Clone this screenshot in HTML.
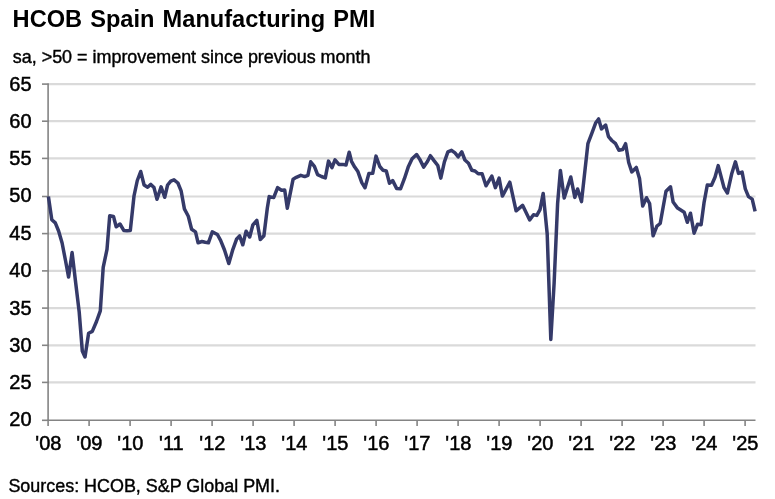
<!DOCTYPE html>
<html><head><meta charset="utf-8"><title>HCOB Spain Manufacturing PMI</title>
<style>
html,body{margin:0;padding:0;background:#fff;}
svg{display:block;font-family:"Liberation Sans",sans-serif;}
.t{font-weight:bold;font-size:23.6px;word-spacing:1.6px;fill:#000;}
.s{font-size:17.93px;fill:#000;stroke:#000;stroke-width:.4;}
.ax{font-size:20px;fill:#000;stroke:#000;stroke-width:.5;}
.g line{stroke:#dadada;stroke-width:2.2;}
.a line{stroke:#848484;stroke-width:1.6;}
</style></head><body>
<svg width="775" height="499" viewBox="0 0 775 499">
<rect width="775" height="499" fill="#fff"/>
<text class="t" x="12.6" y="26.6">HCOB Spain Manufacturing PMI</text>
<text class="s" x="12.8" y="62.8">sa, &gt;50 = improvement since previous month</text>
<g class="g">
<line x1="48" x2="755.5" y1="84.1" y2="84.1"/>
<line x1="48" x2="755.5" y1="121.2" y2="121.2"/>
<line x1="48" x2="755.5" y1="158.4" y2="158.4"/>
<line x1="48" x2="755.5" y1="196.5" y2="196.5"/>
<line x1="48" x2="755.5" y1="233.6" y2="233.6"/>
<line x1="48" x2="755.5" y1="270.9" y2="270.9"/>
<line x1="48" x2="755.5" y1="308.1" y2="308.1"/>
<line x1="48" x2="755.5" y1="345.3" y2="345.3"/>
<line x1="48" x2="755.5" y1="382.4" y2="382.4"/>
</g>
<g class="a">
<line x1="48.1" x2="48.1" y1="83.4" y2="420.3"/>
<line x1="47.5" x2="755.5" y1="420.3" y2="420.3"/>
<line x1="42" x2="48.6" y1="84.1" y2="84.1"/>
<line x1="42" x2="48.6" y1="121.2" y2="121.2"/>
<line x1="42" x2="48.6" y1="158.4" y2="158.4"/>
<line x1="42" x2="48.6" y1="196.5" y2="196.5"/>
<line x1="42" x2="48.6" y1="233.6" y2="233.6"/>
<line x1="42" x2="48.6" y1="270.9" y2="270.9"/>
<line x1="42" x2="48.6" y1="308.1" y2="308.1"/>
<line x1="42" x2="48.6" y1="345.3" y2="345.3"/>
<line x1="42" x2="48.6" y1="382.4" y2="382.4"/>
<line x1="42" x2="48.6" y1="420.3" y2="420.3"/>
<line x1="48.1" x2="48.1" y1="420.3" y2="425.9"/>
<line x1="89.1" x2="89.1" y1="420.3" y2="425.9"/>
<line x1="130.1" x2="130.1" y1="420.3" y2="425.9"/>
<line x1="171.1" x2="171.1" y1="420.3" y2="425.9"/>
<line x1="212.1" x2="212.1" y1="420.3" y2="425.9"/>
<line x1="253.1" x2="253.1" y1="420.3" y2="425.9"/>
<line x1="294.1" x2="294.1" y1="420.3" y2="425.9"/>
<line x1="335.1" x2="335.1" y1="420.3" y2="425.9"/>
<line x1="376.1" x2="376.1" y1="420.3" y2="425.9"/>
<line x1="417.1" x2="417.1" y1="420.3" y2="425.9"/>
<line x1="458.1" x2="458.1" y1="420.3" y2="425.9"/>
<line x1="499.1" x2="499.1" y1="420.3" y2="425.9"/>
<line x1="540.1" x2="540.1" y1="420.3" y2="425.9"/>
<line x1="581.1" x2="581.1" y1="420.3" y2="425.9"/>
<line x1="622.1" x2="622.1" y1="420.3" y2="425.9"/>
<line x1="663.1" x2="663.1" y1="420.3" y2="425.9"/>
<line x1="704.1" x2="704.1" y1="420.3" y2="425.9"/>
<line x1="745.1" x2="745.1" y1="420.3" y2="425.9"/>
</g>
<g class="ax">
<text x="31.6" y="90.8" text-anchor="end">65</text>
<text x="31.6" y="128.0" text-anchor="end">60</text>
<text x="31.6" y="165.0" text-anchor="end">55</text>
<text x="31.6" y="202.1" text-anchor="end">50</text>
<text x="31.6" y="240.2" text-anchor="end">45</text>
<text x="31.6" y="277.4" text-anchor="end">40</text>
<text x="31.6" y="314.7" text-anchor="end">35</text>
<text x="31.6" y="352.0" text-anchor="end">30</text>
<text x="31.6" y="389.2" text-anchor="end">25</text>
<text x="31.6" y="426.3" text-anchor="end">20</text>
<text x="48.4" y="449.9" text-anchor="middle">&#39;08</text>
<text x="89.4" y="449.9" text-anchor="middle">&#39;09</text>
<text x="130.4" y="449.9" text-anchor="middle">&#39;10</text>
<text x="171.4" y="449.9" text-anchor="middle">&#39;11</text>
<text x="212.4" y="449.9" text-anchor="middle">&#39;12</text>
<text x="253.4" y="449.9" text-anchor="middle">&#39;13</text>
<text x="294.4" y="449.9" text-anchor="middle">&#39;14</text>
<text x="335.4" y="449.9" text-anchor="middle">&#39;15</text>
<text x="376.4" y="449.9" text-anchor="middle">&#39;16</text>
<text x="417.4" y="449.9" text-anchor="middle">&#39;17</text>
<text x="458.4" y="449.9" text-anchor="middle">&#39;18</text>
<text x="499.4" y="449.9" text-anchor="middle">&#39;19</text>
<text x="540.4" y="449.9" text-anchor="middle">&#39;20</text>
<text x="581.4" y="449.9" text-anchor="middle">&#39;21</text>
<text x="622.4" y="449.9" text-anchor="middle">&#39;22</text>
<text x="663.4" y="449.9" text-anchor="middle">&#39;23</text>
<text x="704.4" y="449.9" text-anchor="middle">&#39;24</text>
<text x="745.4" y="449.9" text-anchor="middle">&#39;25</text>
</g>
<polyline fill="none" stroke="#353a69" stroke-width="3.5" stroke-linejoin="round" stroke-linecap="butt" points="48.4,196.5 51.8,219.7 55.3,222.9 58.6,231 62.1,243 65.4,260 68.6,277.1 72.1,252.6 75.7,283 79.2,312 82.3,351 85,357 88.6,333.2 92.3,331.4 96.5,321.5 100.3,310.8 103.2,267.4 107,249.4 109.7,215.8 113.5,216.5 116.2,226.8 120,224 123.9,230.6 127,230.8 130.3,230.6 134,196 137.3,180.5 140.7,171.5 144.1,185 147.6,187.2 150.8,184.4 154,187.6 157,199.2 161.1,186.9 164.7,197.3 167.6,185 170.8,181.1 174,179.8 177.9,183 181.1,190.8 184.4,208.9 188.3,216.2 191.6,229.3 195.5,231.9 198.1,242.8 201.9,241.5 205.2,242.3 208.4,242.8 212.3,231.9 217.4,234.5 220.6,240.3 224.5,250 228.8,263.5 232.9,249.3 236.5,239.3 239.6,235.9 242.8,244.8 246.1,231.2 249.7,237 252.9,224.8 256.8,220.3 260.3,239.6 263.9,235.7 267.3,208.2 269.2,196.6 273.7,197.6 277.6,187.6 281.5,190.2 284.7,189.9 287.3,208.2 293.1,179.2 296.3,177.3 300.8,175.3 304.7,176.6 307.9,175.3 310.7,161.8 314.4,166.3 317.6,174.7 321.5,176.5 325.3,177.9 328.5,161.1 332,167.6 335,159.8 338.9,164.4 342.7,164.4 346,165 349.2,152.2 351.5,161.3 354.7,167.1 357.9,171.6 361.8,182.6 365,187.7 368.9,173.5 372.7,173.3 376,156.1 379.8,166.5 383.1,170.3 386.3,171 389.5,183.2 392.7,180.6 396.6,188.4 400.5,188.8 404.4,178.7 408.2,167.1 412.1,158.7 416.6,154.5 419.8,159.4 423.7,167.1 427.6,161.3 430.4,155.7 434,160.6 437.8,165.5 440.8,178.1 444.4,161.8 447.9,151.9 451.5,150.3 455,152.9 458.2,156.8 461.8,151.9 464.9,160 468.5,163.2 471.8,170.3 475,171 478.2,173.8 482.1,173.8 486,185.8 491.8,176.1 495.4,187.7 499.1,178.1 502.4,196.1 509.8,182.2 516.1,210.8 522.6,205.3 529.7,219.9 533.5,214.8 536.8,215.4 540,209.6 543.2,193.4 547.2,234 550.8,339.5 554.1,283.5 557.6,203.6 560.4,170.5 564.2,198 570.8,177 574.8,197.4 577.6,189 581.5,201.6 587.9,143.7 591.8,133.4 595.6,123.1 598.6,118.9 601.5,128.9 605.6,125 608.5,136.6 611.8,140.5 615.6,143.7 618.9,150.2 622.7,149.5 625.6,143.7 628.7,162.5 631.8,171.9 636.3,167.4 639.5,178.4 642.7,206.1 646.5,197.7 649.6,203.5 653.1,235.8 656.9,226.1 660.2,223.5 666,191.3 670.5,186.8 673.1,202 677.6,208.1 684.2,212.3 687.3,222.3 690.5,213.2 694.1,233.2 697.6,224.2 701.1,224.8 704,202.9 707.3,185 711.5,185.2 715,177.3 718.2,165.6 724,187.6 727.4,193 731.8,173.4 735.4,161.8 738.5,173.4 742.1,172.1 745.3,188.9 748.5,196.6 752.2,199.1 755.1,211.3"/>
<text class="s" x="8.4" y="491.8">Sources: HCOB, S&amp;P Global PMI.</text>
</svg>
</body></html>
